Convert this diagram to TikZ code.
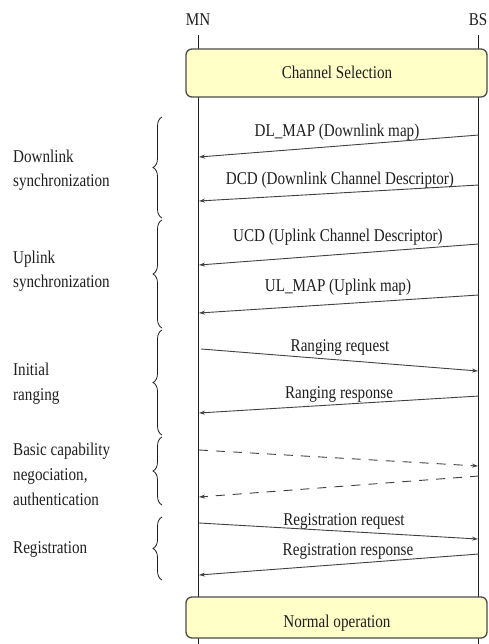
\documentclass[tikz,border=0pt]{standalone}
\usepackage{fontspec}
\setmainfont[FakeStretch=0.84]{Liberation Serif}
\usetikzlibrary{arrows.meta,decorations.pathreplacing}
\definecolor{boxfill}{RGB}{255,255,200}
\definecolor{ink}{RGB}{30,30,30}
\begin{document}
\begin{tikzpicture}[x=1pt,y=-1pt,
  txt/.style={font=\fontsize{18}{21}\selectfont, inner sep=0pt, text=ink},
  msg/.style={draw=ink!85, line width=0.9pt, -{Stealth[length=6pt,width=4pt]}},
  dmsg/.style={msg, dash pattern=on 9pt off 8pt},
  phase/.style={draw=ink!80, line width=1.3pt, fill=boxfill, rounded corners=6pt},
  life/.style={draw=ink, line width=0.9pt},
  brc/.style={draw=ink, line width=0.8pt, decorate, decoration={brace, amplitude=9pt}},
  lbl/.style={txt, anchor=base west, align=left}]
\useasboundingbox (0,0) rectangle (488,644);
% lifelines
\node[txt, anchor=base] (MN) at (198,26) {MN};
\node[txt, anchor=base] (BS) at (478,26) {BS};
\coordinate (mtop) at (198,35); \coordinate (mbot) at (198,644);
\coordinate (btop) at (478,35); \coordinate (bbot) at (478,644);
\draw[life] (mtop) -- (mbot);
\draw[life] (btop) -- (bbot);
% phase boxes
\draw[phase] (186,49) rectangle (487,97);
\node[txt, anchor=base] (cs) at (337,79) {Channel Selection};
\draw[phase] (186,597) rectangle (487,638);
\node[txt, anchor=base] (no) at (337,627) {Normal operation};
% messages
\coordinate (b1) at (479,135); \coordinate (m1) at (199,157);
\draw[msg] (b1) -- (m1);
\node[txt, anchor=base] (l1) at (337,137) {DL\_MAP (Downlink map)};
\coordinate (b2) at (479,185); \coordinate (m2) at (199,201);
\draw[msg] (b2) -- (m2);
\node[txt, anchor=base] (l2) at (340,185) {DCD (Downlink Channel Descriptor)};
\coordinate (b3) at (479,244); \coordinate (m3) at (199,265);
\draw[msg] (b3) -- (m3);
\node[txt, anchor=base] (l3) at (338,241) {UCD (Uplink Channel Descriptor)};
\coordinate (b4) at (479,295); \coordinate (m4) at (199,313);
\draw[msg] (b4) -- (m4);
\node[txt, anchor=base] (l4) at (338,291) {UL\_MAP (Uplink map)};
\coordinate (m5) at (201,349); \coordinate (b5) at (478,371);
\draw[msg] (m5) -- (b5);
\node[txt, anchor=base] (l5) at (340,351) {Ranging request};
\coordinate (b6) at (479,396); \coordinate (m6) at (199,413);
\draw[msg] (b6) -- (m6);
\node[txt, anchor=base] (l6) at (339,398) {Ranging response};
\coordinate (m7) at (199,450); \coordinate (b7) at (478,466);
\draw[dmsg] (m7) -- (b7);
\coordinate (b8) at (479,476); \coordinate (m8) at (199,497);
\draw[dmsg] (b8) -- (m8);
\coordinate (m9) at (199,523); \coordinate (b9) at (478,539);
\draw[msg] (m9) -- (b9);
\node[txt, anchor=base] (l9) at (344,525) {Registration request};
\coordinate (b10) at (479,554); \coordinate (m10) at (199,575);
\draw[msg] (b10) -- (m10);
\node[txt, anchor=base] (l10) at (348,555) {Registration response};
% braces
\coordinate (k1a) at (162,218); \coordinate (k1b) at (162,117);
\draw[brc] (k1a) -- (k1b);
\coordinate (k2a) at (162,328); \coordinate (k2b) at (162,220);
\draw[brc] (k2a) -- (k2b);
\coordinate (k3a) at (162,435); \coordinate (k3b) at (162,330);
\draw[brc] (k3a) -- (k3b);
\coordinate (k4a) at (162,505); \coordinate (k4b) at (162,437);
\draw[brc] (k4a) -- (k4b);
\coordinate (k5a) at (162,580); \coordinate (k5b) at (162,517);
\draw[brc] (k5a) -- (k5b);
% phase labels
\node[lbl] (p1a) at (13,163) {Downlink};
\node[lbl] (p1b) at (13,186) {synchronization};
\node[lbl] (p2a) at (13,263) {Uplink};
\node[lbl] (p2b) at (13,287) {synchronization};
\node[lbl] (p3a) at (13,375) {Initial};
\node[lbl] (p3b) at (13,400) {ranging};
\node[lbl] (p4a) at (13,455) {Basic capability};
\node[lbl] (p4b) at (13,480) {negociation,};
\node[lbl] (p4c) at (13,505) {authentication};
\node[lbl] (p5a) at (13,553) {Registration};
\end{tikzpicture}
\end{document}
